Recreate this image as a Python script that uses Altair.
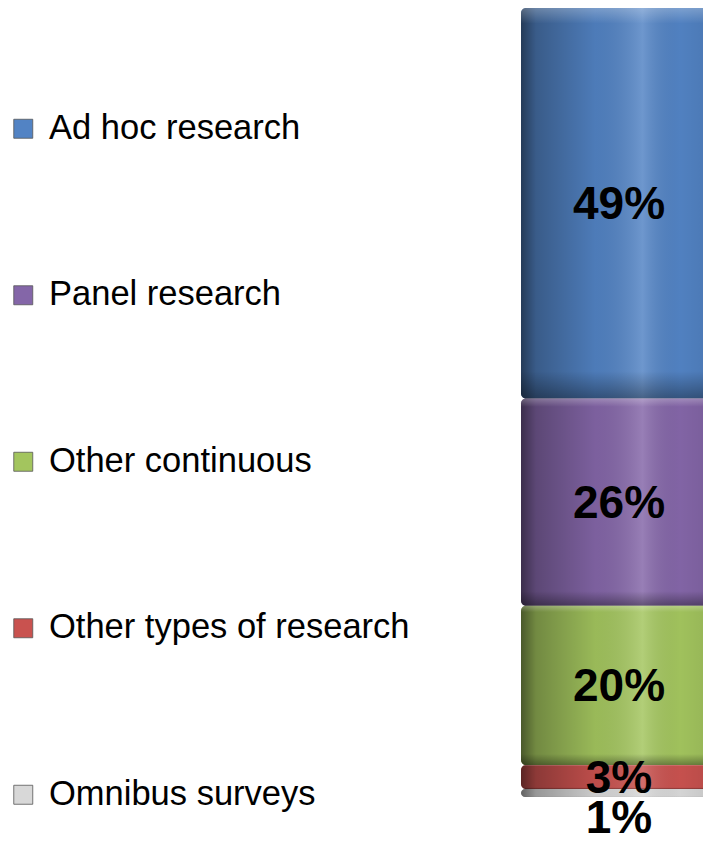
import altair as alt
import pandas as pd

categories = ["Ad hoc research", "Panel research", "Other continuous",
              "Other types of research", "Omnibus surveys"]
values = [49, 26, 20, 3, 1]
labels = ["49%", "26%", "20%", "3%", "1%"]
colors = ["#5283C4", "#8466A8", "#A3C55E", "#C9524F", "#D8D8D8"]

df = pd.DataFrame({
    "category": categories,
    "value": values,
    "label": labels,
    "stack_rank": list(range(len(categories) - 1, -1, -1)),
})

FONT = "Liberation Sans"
BAR_X, BAR_X2 = 513, 700

base = alt.Chart(df).transform_stack(
    stack="value", groupby=[], as_=["y0", "y1"],
    sort=[{"field": "stack_rank", "order": "ascending"}]
).transform_calculate(mid="(datum.y0 + datum.y1) / 2")

yscale = alt.Scale(domain=[0, 99], nice=False, zero=True)

bars = base.mark_bar(cornerRadius=5).encode(
    x=alt.value(BAR_X), x2=alt.value(BAR_X2),
    y=alt.Y("y0:Q", scale=yscale, axis=None),
    y2="y1:Q",
    color=alt.Color(
        "category:N",
        scale=alt.Scale(domain=categories, range=colors),
        sort=categories,
        legend=alt.Legend(
            title=None, orient="none", legendX=-2, legendY=103.5,
            symbolType="square", symbolSize=361, symbolStrokeWidth=0.8,
            symbolStrokeColor="#555555",
            labelFont=FONT, labelFontSize=34.5, labelColor="#000000",
            labelOffset=8.5, rowPadding=131.5, padding=0, labelLimit=500,
        ),
    ),
)

hgrad = {
    "gradient": "linear", "x1": 0, "x2": 1, "y1": 0, "y2": 0,
    "stops": [
        {"offset": 0.0, "color": "rgba(0,0,0,0.55)"},
        {"offset": 0.08, "color": "rgba(0,0,0,0.3)"},
        {"offset": 0.4, "color": "rgba(0,0,0,0.06)"},
        {"offset": 0.65, "color": "rgba(255,255,255,0.16)"},
        {"offset": 0.85, "color": "rgba(0,0,0,0.02)"},
        {"offset": 1.0, "color": "rgba(0,0,0,0.08)"},
    ],
}
vgrad = {
    "gradient": "linear", "x1": 0, "x2": 0, "y1": 0, "y2": 1,
    "stops": [
        {"offset": 0.0, "color": "rgba(255,255,255,0.25)"},
        {"offset": 0.04, "color": "rgba(255,255,255,0.0)"},
        {"offset": 0.93, "color": "rgba(0,0,0,0.0)"},
        {"offset": 1.0, "color": "rgba(0,0,0,0.35)"},
    ],
}

shade_h = base.mark_bar(cornerRadius=5, fill=hgrad).encode(
    x=alt.value(BAR_X), x2=alt.value(BAR_X2),
    y=alt.Y("y0:Q", scale=yscale), y2="y1:Q",
)
shade_v = base.mark_bar(cornerRadius=5, fill=vgrad).encode(
    x=alt.value(BAR_X), x2=alt.value(BAR_X2),
    y=alt.Y("y0:Q", scale=yscale), y2="y1:Q",
)

text_in = base.transform_filter("datum.value >= 2").mark_text(
    font=FONT, fontSize=46, fontWeight="bold", color="#000000",
    align="center", baseline="middle", dy=2,
).encode(
    x=alt.value(611),
    y=alt.Y("mid:Q", scale=yscale),
    text="label:N",
)
text_out = base.transform_filter("datum.value < 2").mark_text(
    font=FONT, fontSize=46, fontWeight="bold", color="#000000",
    align="center", baseline="middle", dy=22,
).encode(
    x=alt.value(611),
    y=alt.Y("y0:Q", scale=yscale),
    text="label:N",
)

chart = alt.layer(bars, shade_h, shade_v, text_in, text_out).properties(
    width=695, height=789,
    autosize=alt.AutoSizeParams(type="none"),
    padding={"left": 0, "top": 0, "right": 0, "bottom": 46},
).configure_view(stroke=None)

chart.save("out.html", embed_options={"renderer": "svg", "actions": False})
